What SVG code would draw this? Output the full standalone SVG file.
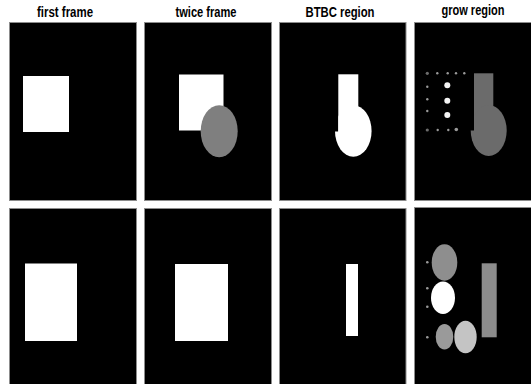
<svg xmlns="http://www.w3.org/2000/svg" width="531" height="384" viewBox="0 0 531 384">
<style>
.title{font-family:"Liberation Sans",Arial,sans-serif;font-weight:bold;font-size:14px;fill:#000;text-anchor:middle}
.panel{fill:#000;stroke:#8c8c8c;stroke-width:1}
.w{fill:#fff}
.dot{fill:#9a9a9a}
.wdot{fill:#f4f4f4}
</style>
<defs>
<clipPath id="c3"><path d="M338.3,20 H406 V200 H279 V131.5 H338.3 Z"/></clipPath>
<clipPath id="c4"><path d="M474,20 H531 V200 H414 V130.5 H474 Z"/></clipPath>
</defs>
<rect width="531" height="384" fill="#fff"/>
<g id="titles">
<text class="title" x="65" y="17" textLength="56" lengthAdjust="spacingAndGlyphs">first frame</text>
<text class="title" x="206" y="17" textLength="61" lengthAdjust="spacingAndGlyphs">twice frame</text>
<text class="title" x="340" y="17" textLength="69" lengthAdjust="spacingAndGlyphs">BTBC region</text>
<text class="title" x="473" y="15" textLength="63" lengthAdjust="spacingAndGlyphs">grow region</text>
</g>
<g id="r1-first">
<rect class="panel" x="9.5" y="22.5" width="127" height="178"/>
<rect class="w" x="23" y="76" width="46" height="56"/>
</g>
<g id="r1-twice">
<rect class="panel" x="144.5" y="22.5" width="127" height="178"/>
<rect class="w" x="179" y="74.5" width="44.5" height="56"/>
<ellipse cx="219.2" cy="131.2" rx="18.5" ry="26" fill="#7f7f7f"/>
</g>
<g id="r1-btbc">
<rect class="panel" x="279.5" y="22.5" width="126.5" height="178"/>
<rect class="w" x="338.3" y="74.3" width="20" height="58"/>
<ellipse class="w" cx="353.3" cy="131" rx="18.3" ry="25.8" clip-path="url(#c3)"/>
</g>
<g id="r1-grow">
<rect class="panel" x="414.5" y="22.5" width="130" height="178"/>
<rect x="474" y="73.3" width="19.3" height="58" fill="#6b6b6b"/>
<ellipse cx="488.7" cy="130.5" rx="18" ry="25.5" fill="#6b6b6b" clip-path="url(#c4)"/>
<circle class="dot" cx="427.3" cy="73.3" r="1.6" fill-opacity="0.7"/>
<circle class="dot" cx="437.3" cy="73.3" r="1.2"/>
<circle class="dot" cx="447.7" cy="73.3" r="1.2"/>
<circle class="dot" cx="456" cy="73.3" r="1.2"/>
<circle class="dot" cx="464.3" cy="73.3" r="1.2"/>
<circle class="dot" cx="427.3" cy="86.7" r="1.2"/>
<circle class="dot" cx="427.3" cy="99.3" r="1.2"/>
<circle class="dot" cx="427.3" cy="111" r="1.2"/>
<circle class="dot" cx="427.3" cy="130" r="1.6" fill-opacity="0.7"/>
<circle class="dot" cx="437.7" cy="130" r="1.2"/>
<circle class="dot" cx="448.3" cy="130" r="1.2"/>
<circle class="dot" cx="456.3" cy="129.5" r="1.8"/>
<circle class="wdot" cx="447.3" cy="85.3" r="3"/>
<circle class="wdot" cx="447.3" cy="100.7" r="3"/>
<circle class="wdot" cx="447.3" cy="115" r="3"/>
</g>
<g id="r2-first">
<rect class="panel" x="9.5" y="208.5" width="127" height="178"/>
<rect class="w" x="25" y="263.5" width="52" height="77.5"/>
</g>
<g id="r2-twice">
<rect class="panel" x="144.5" y="208.5" width="127" height="178"/>
<rect class="w" x="175" y="264" width="53" height="77"/>
</g>
<g id="r2-btbc">
<rect class="panel" x="279.5" y="208.5" width="126.5" height="178"/>
<rect class="w" x="346" y="264" width="12" height="72"/>
</g>
<g id="r2-grow">
<rect class="panel" x="414.5" y="207.5" width="130" height="179"/>
<ellipse cx="444.5" cy="262.5" rx="12.8" ry="18.2" fill="#8e8e8e"/>
<ellipse cx="443" cy="297.8" rx="12" ry="16.2" fill="#fff"/>
<ellipse cx="444.5" cy="336.7" rx="8.8" ry="12.7" fill="#9a9a9a"/>
<ellipse cx="465.5" cy="337" rx="11.2" ry="16.3" fill="#c4c4c4"/>
<rect x="481.7" y="263.3" width="15" height="74" fill="#8c8c8c"/>
<circle class="dot" cx="427.3" cy="262.3" r="1.3"/>
<circle class="dot" cx="427.3" cy="288.3" r="1.3"/>
<circle class="dot" cx="427.3" cy="306.7" r="1.3"/>
<circle class="dot" cx="427.3" cy="337.3" r="1.3"/>
</g>
</svg>
